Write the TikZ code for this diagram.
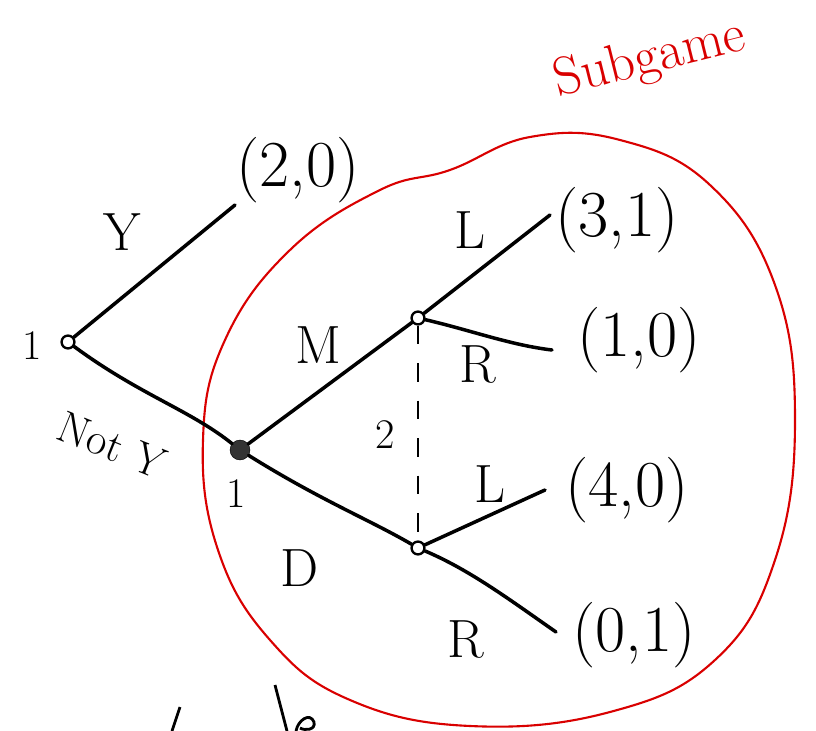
\documentclass[tikz,border=0pt]{standalone}
\usepackage{fontspec}
\begin{document}
\begin{tikzpicture}[x=0.3mm,y=-0.3mm,
  edge/.style={line width=3pt,black,line cap=round},
  dec/.style={circle,draw=black,line width=2pt,fill=white,inner sep=0pt,minimum size=11pt},
  decbig/.style={circle,draw=black,fill=black!80,inner sep=0pt,minimum size=17pt},
  pay/.style={font=\fontsize{56}{60}\selectfont,inner sep=1pt},
  lab/.style={font=\fontsize{46}{50}\selectfont,inner sep=1pt},
  num/.style={font=\fontsize{36}{40}\selectfont,inner sep=1pt},
  red/.style={draw=red!85!black,line width=1.8pt}]
\useasboundingbox (0,0) rectangle (816,731);
% subgame boundary
\draw[red] plot[smooth cycle,tension=0.7] coordinates {(203,440) (225,340) (290,250) (380,190) (450,170) (530,137) (620,140) (710,185) (775,285) (795,420) (775,560) (715,660) (610,712) (470,726) (350,700) (270,640) (218,550)};
\node[font=\fontsize{46}{50}\selectfont,text=red!85!black,rotate=14,inner sep=0pt] (sub) at (650,60) {Subgame};
% nodes
\node[dec] (r) at (68,342) {};
\node[decbig] (n1) at (240,450) {};
\node[dec] (u) at (418,318) {};
\node[dec] (d) at (418,548) {};
\node[pay] (p20) at (298,170) {(2,0)};
\node[pay] (p31) at (617,220) {(3,1)};
\node[pay] (p10) at (639,340) {(1,0)};
\node[pay] (p40) at (627,490) {(4,0)};
\node[pay] (p01) at (634,635) {(0,1)};
\coordinate (e20) at (235,205);
\coordinate (e31) at (550,215);
\coordinate (e10) at (552,350);
\coordinate (e40) at (545,490);
\coordinate (e01) at (556,632);
% edges
\draw[edge] (r) -- (e20);
\draw[edge] (r) .. controls (140,395) and (190,410) .. (n1);
\draw[edge] (n1) -- (u);
\draw[edge] (n1) .. controls (320,500) and (370,520) .. (d);
\draw[edge] (u) -- (e31);
\draw[edge] (u) .. controls (470,330) and (510,345) .. (e10);
\draw[edge] (d) -- (e40);
\draw[edge] (d) .. controls (470,570) and (510,600) .. (e01);
\draw[line width=2pt,dash pattern=on 16pt off 16pt] (u) -- (d);
% labels
\node[num] (l1) at (32,346) {1};
\node[lab] (ly) at (122,232) {Y};
\node[font=\fontsize{38}{42}\selectfont,rotate=-22,inner sep=0pt] (lny) at (112,445) {Not Y};
\node[num] (l2) at (236,494) {1};
\node[lab] (lm) at (318,345) {M};
\node[lab] (ld) at (300,568) {D};
\node[num] (l3) at (385,435) {2};
\node[lab] (lL1) at (470,230) {L};
\node[lab] (lR1) at (478,365) {R};
\node[lab] (lL2) at (490,484) {L};
\node[lab] (lR2) at (466,640) {R};
% bottom scribbles
\coordinate (s1) at (180,707);
\coordinate (s2) at (172,731);
\coordinate (s3) at (275,685);
\coordinate (s4) at (287,731);
\draw[line width=2.4pt] (s1) -- (s2);
\draw[line width=2.4pt] (s3) -- (s4);
\draw[line width=2.4pt] (296,731) .. controls (298,720) and (310,712) .. (314,722) .. controls (316,730) and (305,731) .. (300,728);
\end{tikzpicture}
\end{document}
